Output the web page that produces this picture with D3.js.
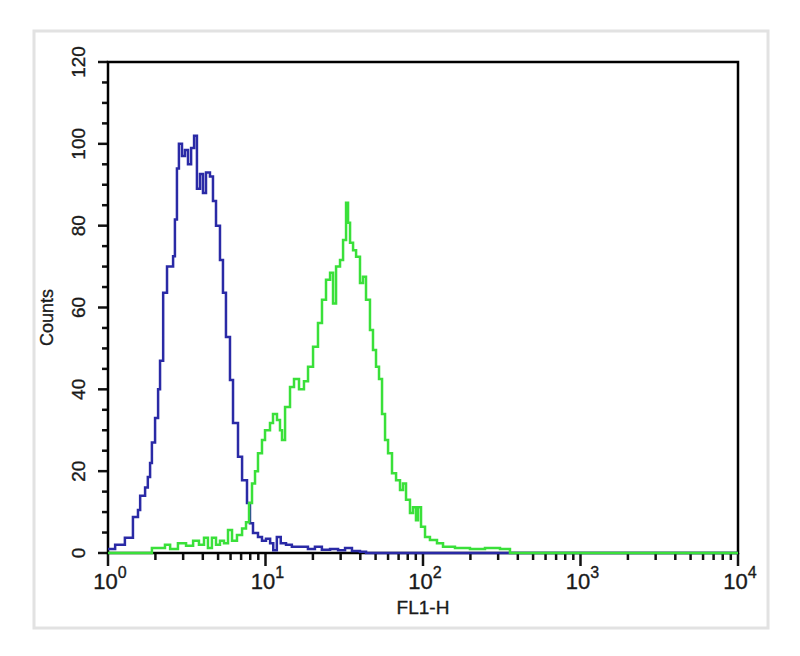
<!DOCTYPE html>
<html>
<head>
<meta charset="utf-8">
<script src="https://cdn.jsdelivr.net/npm/d3@7"></script>
<style>
  html, body { margin: 0; padding: 0; background: #fff; }
  svg { display: block; }
  text { font-family: "Liberation Sans", Arial, sans-serif; fill: #1a1a1a; stroke: #1a1a1a; stroke-width: 0.35px; }
</style>
</head>
<body>
<svg id="chart" width="800" height="656"></svg>
<script>
// ---- data ----
const xTickExponents = [0, 1, 2, 3, 4];
const yTickValues = [0, 20, 40, 60, 80, 100, 120];
const xLabel = "FL1-H";
const yLabel = "Counts";

// Blue (control) histogram: FL1-H value, counts
const blueFL1 = [1.00, 1.11, 1.28, 1.44, 1.55, 1.60, 1.72, 1.79, 1.85, 1.90, 1.99, 2.08, 2.14, 2.24, 2.37, 2.59, 2.66, 2.74, 2.82, 2.95, 3.08, 3.22, 3.37, 3.52, 3.67, 3.84, 4.01, 4.19, 4.44, 4.64, 4.85, 5.14, 5.37, 5.61, 5.95, 6.22, 6.69, 7.10, 7.63, 7.97, 8.33, 8.96, 9.50, 10.07, 10.7, 11.2, 11.8, 12.5, 13.5, 14.7, 16.6, 18.6, 20.6, 22.8, 25.7, 28.9, 32.0, 35.4, 39.8, 43.5, 10000];
const blueCounts = [1, 2, 3.7, 8.8, 10.5, 14, 16, 18.6, 22, 27, 33, 40, 47, 63.6, 70, 72.5, 81.5, 94, 100, 97, 98.5, 95, 99, 102, 89, 92.6, 88, 93, 92, 86, 80, 71.6, 63.6, 52.8, 42.3, 31.8, 23.5, 17.8, 12.2, 7.3, 4.9, 3.9, 3, 3.5, 2.4, 0.7, 3.9, 2.4, 2, 1.5, 1.5, 1, 1.5, 0.8, 1, 0.7, 1.2, 0.5, 0.3, 0, 0];

// Green (antibody) histogram: FL1-H value, counts
const greenFL1 = [1.00, 1.90, 2.30, 2.48, 2.78, 3.13, 3.47, 3.78, 4.07, 4.31, 4.57, 4.85, 5.14, 5.45, 5.78, 6.13, 6.59, 7.10, 7.52, 7.86, 8.21, 8.58, 8.96, 9.50, 9.93, 10.68, 11.16, 11.83, 12.36, 12.73, 13.31, 14.31, 15.17, 16.32, 17.55, 18.62, 20.04, 21.54, 22.84, 24.22, 25.70, 26.84, 28.05, 29.73, 31.08, 32.47, 33.43, 34.42, 35.97, 37.59, 39.81, 41.60, 43.47, 46.06, 48.14, 50.31, 52.57, 54.94, 57.41, 59.99, 63.56, 67.44, 71.45, 74.66, 78.02, 82.66, 86.38, 90.26, 92.97, 97.15, 103.0, 110.7, 122.7, 134.0, 159.6, 198.7, 247.5, 308.2, 356.6, 10000];
const greenCounts = [0, 1.2, 2, 1, 2.4, 1.8, 3, 2, 3.7, 1.2, 3.7, 2, 3, 2.4, 5.6, 3, 4.4, 6, 7.5, 12.2, 17, 20, 24.4, 27.6, 30, 31.8, 34, 32.5, 30, 27.6, 35.7, 40.6, 42.5, 40, 42, 45.5, 50.4, 56.2, 61.9, 66.8, 68.5, 61, 70, 71.6, 76.5, 85.6, 80.7, 75.8, 74, 72.4, 66, 67.5, 61.9, 54.5, 49.6, 45.5, 42.5, 34, 27.6, 24.4, 19.5, 17.8, 15.4, 17, 13, 9.8, 11.2, 8, 11.2, 6.4, 3.9, 3.2, 2.4, 1.5, 1.2, 1, 1.2, 1, 0, 0];

(function () {
const blueData = blueFL1.map((v, i) => ({ x: v, y: blueCounts[i] }));
const greenData = greenFL1.map((v, i) => ({ x: v, y: greenCounts[i] }));

// ---- layout ----
const svg = d3.select("#chart");
const pLeft = 108, pRight = 738, pTop = 62, pBottom = 553;

// outer light frame
svg.append("rect")
  .attr("x", 34).attr("y", 31).attr("width", 734).attr("height", 597)
  .attr("fill", "#fff").attr("stroke", "#e2e2e2").attr("stroke-width", 3);

const x = d3.scaleLog().domain([1, 10000]).range([pLeft, pRight]);
const y = d3.scaleLinear().domain([0, 120]).range([pBottom, pTop]);

// y axis ticks (outward, major every 20, minor every 5)
const yMinor = d3.range(0, 121, 5);
svg.append("g").selectAll("line").data(yMinor).join("line")
  .attr("x1", d => d % 20 === 0 ? pLeft - 10 : pLeft - 6)
  .attr("x2", pLeft)
  .attr("y1", d => y(d)).attr("y2", d => y(d))
  .attr("stroke", "#111").attr("stroke-width", 2.5);

svg.append("g").selectAll("text").data(yTickValues).join("text")
  .attr("transform", d => `translate(${pLeft - 30},${y(d)}) rotate(-90)`)
  .attr("text-anchor", "middle")
  .attr("dy", "0.36em")
  .attr("font-size", 19)
  .text(d => d);

svg.append("text")
  .attr("transform", `translate(${pLeft - 61},${(pTop + pBottom) / 2 + 10}) rotate(-90)`)
  .attr("text-anchor", "middle")
  .attr("dy", "0.36em")
  .attr("font-size", 18)
  .text(yLabel);

// x axis ticks (log: majors at decades, minors 2..9)
const xMinor = [];
for (let e = 0; e < 4; e++) for (let m = 2; m <= 9; m++) xMinor.push(m * Math.pow(10, e));
svg.append("g").selectAll("line").data(xMinor).join("line")
  .attr("x1", d => x(d)).attr("x2", d => x(d))
  .attr("y1", pBottom).attr("y2", pBottom + 7)
  .attr("stroke", "#111").attr("stroke-width", 2.5);
svg.append("g").selectAll("line").data(xTickExponents).join("line")
  .attr("x1", d => x(Math.pow(10, d))).attr("x2", d => x(Math.pow(10, d)))
  .attr("y1", pBottom).attr("y2", pBottom + 13)
  .attr("stroke", "#111").attr("stroke-width", 2.5);

const xl = svg.append("g").selectAll("text").data(xTickExponents).join("text")
  .attr("x", d => x(Math.pow(10, d)) + 2)
  .attr("y", 589)
  .attr("text-anchor", "middle")
  .attr("font-size", 22);
xl.append("tspan").text("10");
xl.append("tspan").attr("font-size", 16).attr("dy", -11).text(d => d);

svg.append("text")
  .attr("x", (pLeft + pRight) / 2)
  .attr("y", 614)
  .attr("text-anchor", "middle")
  .attr("font-size", 19)
  .text(xLabel);

// plot frame
svg.append("rect")
  .attr("x", pLeft).attr("y", pTop)
  .attr("width", pRight - pLeft).attr("height", pBottom - pTop)
  .attr("fill", "none").attr("stroke", "#000").attr("stroke-width", 2.5);

// histograms
const line = d3.line()
  .x(d => x(d.x))
  .y(d => y(d.y))
  .curve(d3.curveStepAfter);

svg.append("path").datum(blueData)
  .attr("d", line)
  .attr("fill", "none").attr("stroke", "#2a2aa6").attr("stroke-width", 2.5);

svg.append("path").datum(greenData)
  .attr("d", line)
  .attr("fill", "none").attr("stroke", "#3ae03a").attr("stroke-width", 2.5);
})();
</script>
</body>
</html>
